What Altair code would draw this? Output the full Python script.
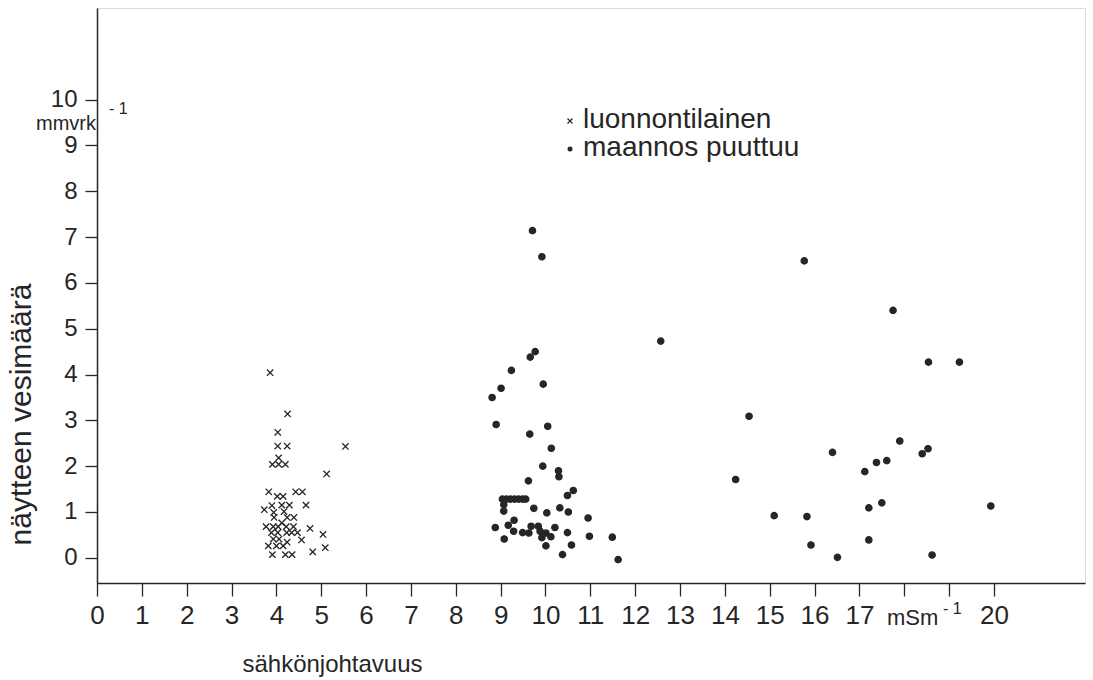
import altair as alt
import pandas as pd

# ---- data ----
cross_x = [3.86, 4.25, 4.03, 4.03, 4.24, 5.54, 4.05, 3.91, 4.05, 4.20,
           5.12, 3.83, 4.02, 4.15, 4.43, 4.58, 3.73, 3.90, 4.12, 4.29,
           4.66, 3.94, 4.17, 3.95, 4.24, 4.39, 4.12, 3.77, 3.93, 4.04,
           4.22, 4.38, 4.75, 3.89, 4.03, 4.23, 4.34, 4.47, 5.04, 3.93,
           4.06, 4.56, 4.24, 3.82, 4.00, 4.15, 5.09, 4.81, 3.91, 4.20, 4.35]
cross_y = [4.04, 3.14, 2.74, 2.44, 2.44, 2.43, 2.18, 2.04, 2.04, 2.04,
           1.83, 1.44, 1.34, 1.34, 1.44, 1.44, 1.05, 1.14, 1.15, 1.15,
           1.15, 0.99, 1.01, 0.88, 0.88, 0.88, 0.76, 0.68, 0.68, 0.68,
           0.68, 0.68, 0.64, 0.55, 0.55, 0.55, 0.55, 0.55, 0.51, 0.41,
           0.41, 0.39, 0.34, 0.26, 0.26, 0.26, 0.22, 0.13, 0.07, 0.07, 0.07]

dot_x = [9.71, 9.92, 9.77, 9.66, 9.24, 9.95, 9.01, 8.81,
         8.90, 10.05, 9.65, 10.13, 9.94, 10.29, 10.30, 9.62, 10.62, 10.49,
         9.04, 9.13, 9.22, 9.31, 9.40, 9.49, 9.56,
         9.07, 9.07, 9.74, 10.32, 10.03, 10.51, 10.95, 9.30, 9.17, 8.88,
         9.29, 9.68, 9.84, 10.21, 9.49, 9.63, 9.88, 10.01, 9.92, 10.12,
         10.49, 10.98, 11.49, 9.08, 10.01, 10.58, 10.38, 11.62,
         12.57, 14.54, 14.24, 15.10, 15.83, 15.92, 15.77, 17.75, 18.54, 19.23,
         17.90, 16.40, 18.53, 18.40, 17.61, 17.38, 17.12, 17.50, 17.21, 19.93,
         16.51, 17.21, 18.62]
dot_y = [7.14, 6.57, 4.50, 4.38, 4.09, 3.79, 3.70, 3.50,
         2.91, 2.87, 2.70, 2.39, 2.00, 1.90, 1.77, 1.68, 1.47, 1.36,
         1.28, 1.28, 1.28, 1.28, 1.28, 1.28, 1.28,
         1.16, 1.02, 1.08, 1.09, 0.98, 1.00, 0.87, 0.82, 0.71, 0.66,
         0.58, 0.69, 0.69, 0.66, 0.55, 0.54, 0.58, 0.54, 0.44, 0.46,
         0.55, 0.47, 0.45, 0.41, 0.26, 0.28, 0.07, -0.04,
         4.73, 3.09, 1.71, 0.92, 0.90, 0.28, 6.48, 5.40, 4.27, 4.27,
         2.55, 2.30, 2.38, 2.27, 2.12, 2.08, 1.88, 1.20, 1.09, 1.13,
         0.01, 0.39, 0.06]

cat_labels = ["luonnontilainen", "maannos puuttuu"]
x_ticks = list(range(0, 21))
y_ticks = list(range(0, 11))
x_title = "sähkönjohtavuus"
y_title = "näytteen vesimäärä"

df = pd.DataFrame({
    "x": cross_x + dot_x,
    "y": cross_y + dot_y,
    "cat": [cat_labels[0]] * len(cross_x) + [cat_labels[1]] * len(dot_x),
})

INK = "#262626"
FONT = "Liberation Sans"
XPATH = "M-1,-1L1,1M-1,1L1,-1"

shape_scale = alt.Scale(domain=cat_labels, range=[XPATH, "circle"])
fill_scale = alt.Scale(domain=cat_labels, range=["transparent", INK])

x_axis = alt.Axis(
    values=x_ticks,
    labelExpr="(datum.value == 18 || datum.value == 19) ? '' : datum.label",
    title=x_title, titleX=235, titleY=88, titleAlign="center",
    titleBaseline="alphabetic", titleFontSize=24, titleFont=FONT,
    titleFontWeight="normal", titleColor=INK,
    labelFontSize=26, labelFont=FONT, labelColor=INK, labelPadding=6,
    labelFlush=False, labelOverlap=False,
    tickSize=13, tickColor=INK, tickWidth=1.3,
    domainColor=INK, domainWidth=1.5, grid=False,
)
y_axis = alt.Axis(
    values=y_ticks,
    title=y_title, titleAngle=270, titleX=-76, titleY=406,
    titleAlign="center", titleBaseline="middle", titleFontSize=30,
    titleFont=FONT, titleFontWeight="normal", titleColor=INK,
    labelFontSize=24, labelFont=FONT, labelColor=INK, labelPadding=8,
    labelFlush=False, labelOverlap=False,
    tickSize=12, tickColor=INK, tickWidth=1.3,
    domainColor=INK, domainWidth=1.5, grid=False,
)

points = alt.Chart(df).mark_point(
    size=40, stroke=INK, strokeWidth=1.3, opacity=1
).encode(
    x=alt.X("x:Q", scale=alt.Scale(domain=[0, 22.03], nice=False, zero=False), axis=x_axis),
    y=alt.Y("y:Q", scale=alt.Scale(domain=[-0.55, 12.0], nice=False, zero=False), axis=y_axis),
    shape=alt.Shape("cat:N", scale=shape_scale, legend=None),
    fill=alt.Fill("cat:N", scale=fill_scale, legend=None),
)

one = alt.Data(values=[{}])

def text(t, x, y, size, align="left", baseline="alphabetic"):
    return alt.Chart(one).mark_text(
        text=t, align=align, baseline=baseline, fontSize=size, font=FONT, color=INK
    ).encode(x=alt.value(x), y=alt.value(y))

leg_sym1 = alt.Chart(one).mark_point(
    shape=XPATH, size=25, stroke=INK, strokeWidth=1.2, fill="transparent", opacity=1
).encode(x=alt.value(473), y=alt.value(113))
leg_sym2 = alt.Chart(one).mark_point(
    shape="circle", size=25, filled=True, color=INK, opacity=1
).encode(x=alt.value(473), y=alt.value(141))

layers = [
    points,
    leg_sym1, leg_sym2,
    text(cat_labels[0], 486, 120, 28),
    text(cat_labels[1], 486, 148, 28),
    text("mmvrk", -31, 122, 20, align="center"),
    text("- 1", 12, 106, 16),
    text("mSm", 790, 617, 22),
    text("- 1", 846, 606, 16),
]

chart = alt.layer(*layers).properties(
    width=988, height=575, autosize="none",
    padding={"left": 97, "top": 8, "right": 8, "bottom": 97},
    background="white",
).configure_view(stroke=INK, strokeWidth=1.5).configure(font=FONT)

chart.save("out.html", embed_options={"renderer": "svg", "actions": False})
